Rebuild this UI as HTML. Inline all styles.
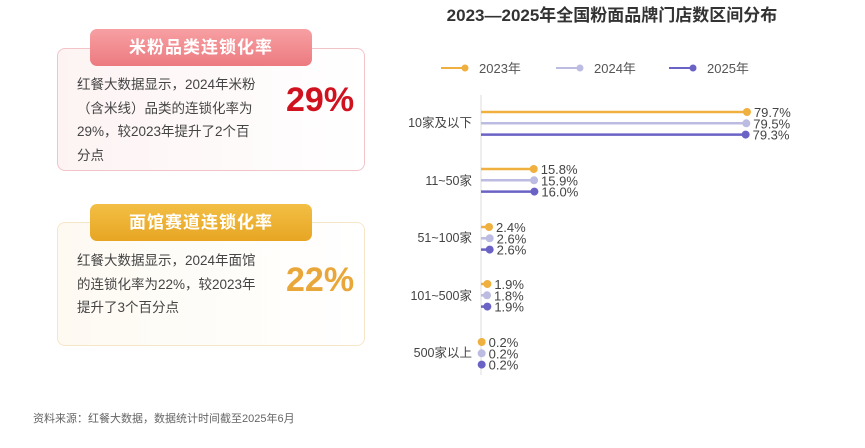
<!DOCTYPE html>
<html><head><meta charset="utf-8"><style>
body{margin:0;width:865px;height:448px;background:#fff;font-family:"Liberation Sans","Noto Sans CJK SC",sans-serif;position:relative;overflow:hidden}
.card{position:absolute;left:57px;width:308px;border-radius:8px;box-sizing:border-box}
.c1{top:48px;height:123px;border:1px solid #f2c4c8;background:linear-gradient(90deg,#fdf3f3,#fff)}
.c2{top:222px;height:124px;border:1px solid #f6e6c8;background:linear-gradient(90deg,#fefaf2,#fff)}
.pill{position:absolute;left:90px;width:222px;height:37px;border-radius:7px;color:#fff;font-weight:bold;font-size:17px;text-align:center;line-height:37px;letter-spacing:1px}
.p1{top:29px;background:linear-gradient(180deg,#f7a0a3,#ec7a80)}
.p2{top:204px;background:linear-gradient(180deg,#f3bf45,#e7a523)}
.txt{position:absolute;left:77px;width:182px;font-size:13.5px;line-height:23.5px;color:#444}
.big{position:absolute;font-size:34px;font-weight:bold}
</style></head><body>
<div class="card c1"></div><div class="pill p1">米粉品类连锁化率</div>
<div class="txt" style="top:73px">红餐大数据显示，2024年米粉<br>（含米线）品类的连锁化率为<br>29%，较2023年提升了2个百<br>分点</div>
<div class="big" style="left:286px;top:81px;color:#d0111e">29%</div>
<div class="card c2"></div><div class="pill p2">面馆赛道连锁化率</div>
<div class="txt" style="top:249px">红餐大数据显示，2024年面馆<br>的连锁化率为22%，较2023年<br>提升了3个百分点</div>
<div class="big" style="left:286px;top:261px;color:#e9a73a">22%</div>
<div style="position:absolute;left:33px;top:410px;font-size:11px;color:#666">资料来源：红餐大数据，数据统计时间截至2025年6月</div>
<svg width="865" height="448" style="position:absolute;left:0;top:0" font-family="Liberation Sans,Noto Sans CJK SC,sans-serif">
<text x="612" y="21" text-anchor="middle" font-size="17" font-weight="bold" fill="#333">2023—2025年全国粉面品牌门店数区间分布</text>
<g font-size="13" fill="#555">
<line x1="441" y1="68" x2="463" y2="68" stroke="#f0b040" stroke-width="2"/><circle cx="465" cy="68" r="3.5" fill="#f0b040"/><text x="479" y="73">2023年</text>
<line x1="556" y1="68" x2="578" y2="68" stroke="#bcbce2" stroke-width="2"/><circle cx="580" cy="68" r="3.5" fill="#bcbce2"/><text x="594" y="73">2024年</text>
<line x1="669" y1="68" x2="691" y2="68" stroke="#6a62c4" stroke-width="2"/><circle cx="693" cy="68" r="3.5" fill="#6a62c4"/><text x="707" y="73">2025年</text>
</g>
<line x1="481" y1="95" x2="481" y2="375" stroke="#ddd"/>
<g font-size="12.5" fill="#444" text-anchor="end">
<text x="472" y="127">10家及以下</text><text x="472" y="185">11~50家</text><text x="472" y="242">51~100家</text><text x="472" y="300">101~500家</text><text x="472" y="357">500家以上</text>
</g>
<g id="bars" font-size="13" fill="#444"></g>
</svg>
<script>
var d=[[112,[79.7,79.5,79.3]],[169,[15.8,15.9,16.0]],[227,[2.4,2.6,2.6]],[284,[1.9,1.8,1.9]],[342,[0.2,0.2,0.2]]];
var c=["#f0b040","#bcbce2","#6a62c4"],s="";
d.forEach(function(r){r[1].forEach(function(v,i){var y=r[0]+i*11.3,x=481+v*3.337;
s+='<line x1="481" y1="'+y+'" x2="'+x+'" y2="'+y+'" stroke="'+c[i]+'" stroke-width="2.5"/><circle cx="'+x+'" cy="'+y+'" r="4" fill="'+c[i]+'"/><text x="'+(x+7)+'" y="'+(y+5)+'">'+v.toFixed(1)+'%</text>';});});
document.getElementById("bars").innerHTML=s;
</script>
</body></html>
